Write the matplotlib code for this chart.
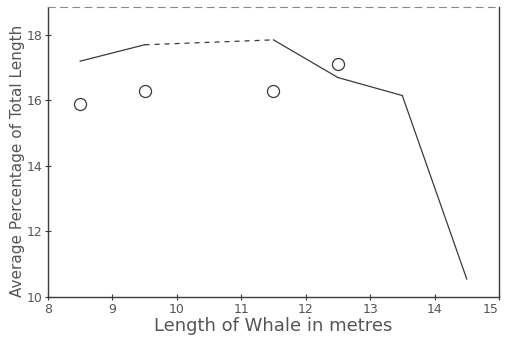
import matplotlib
matplotlib.use("Agg")
import matplotlib.pyplot as plt

# Average percentage of total length against whale length
line_lengths = [8.5, 9.5, 11.5, 12.5, 13.5, 14.5]
line_values = [17.2, 17.7, 17.85, 16.7, 16.15, 10.55]
dashed_span = (1, 2)  # segment between these line points is dashed

point_lengths = [8.5, 9.5, 11.5, 12.5]
point_values = [15.9, 16.3, 16.3, 17.1]

x_ticks = [8, 9, 10, 11, 12, 13, 14, 15]
y_ticks = [10, 12, 14, 16, 18]

INK = "#3a3a3a"
TEXT = "#555555"

fig = plt.figure(figsize=(5.05, 3.39), dpi=100)
ax = fig.add_axes([0.095, 0.124, 0.893, 0.855])

for i in range(len(line_lengths) - 1):
    style = "--" if (i, i + 1) == dashed_span else "-"
    ax.plot(line_lengths[i:i + 2], line_values[i:i + 2], color=INK,
            linewidth=0.9, linestyle=style, dashes=(4, 4) if style == "--" else (None, None))

ax.scatter(point_lengths, point_values, s=75, facecolors="white",
           edgecolors=INK, linewidths=0.9, zorder=3)

ax.set_xlim(8, 15)
ax.set_ylim(10, 18.85)
ax.set_xticks(x_ticks)
ax.set_yticks(y_ticks)
ax.tick_params(direction="inout", length=4, width=0.8, colors=INK,
               labelcolor=TEXT, labelsize=9, pad=2)
# keep the last x tick label inside the figure
ax.get_xticklabels()[-1].set_horizontalalignment("right")

for side in ["left", "bottom", "right"]:
    ax.spines[side].set_color(INK)
    ax.spines[side].set_linewidth(1.0)
ax.spines["top"].set_color("#888888")
ax.spines["top"].set_linewidth(0.8)
ax.spines["top"].set_linestyle((0, (6, 5)))

ax.set_xlabel("Length of Whale in metres", fontsize=13, color=TEXT, labelpad=1)
ax.set_ylabel("Average Percentage of Total Length", fontsize=11, color=TEXT, labelpad=3)
ax.yaxis.set_label_coords(-0.05, 0.47)

fig.savefig("out.png", dpi=100)
